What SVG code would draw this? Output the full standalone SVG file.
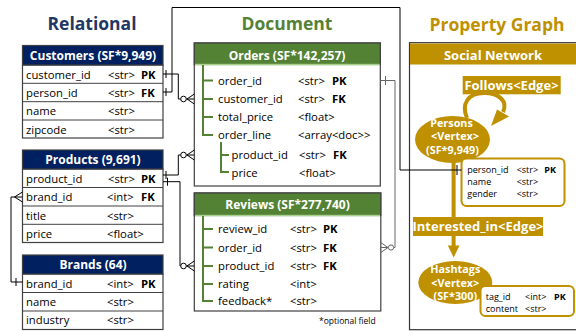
<svg xmlns="http://www.w3.org/2000/svg" width="576" height="331" viewBox="0 0 576 331">
<style>
text{font-family:"Open Sans","Noto Sans","DejaVu Sans",sans-serif}
.t{font-size:17.5px;font-weight:bold;text-anchor:middle}
.hd{font-size:12px;font-weight:bold;fill:#fff;text-anchor:middle}
.f{font-size:11.3px;fill:#000}
.k{font-size:11.3px;font-weight:bold;fill:#000}
.box{fill:#fff;stroke:#404040;stroke-width:1.2}
.sep{stroke:#404040;stroke-width:1}
.nv{fill:#002060;stroke:#404040;stroke-width:1.2}
.gr{fill:#548235}
.tree{stroke:#548235;stroke-width:2;fill:none}
.c{fill:none;stroke:#000;stroke-width:1}
.cg{fill:none;stroke:#666;stroke-width:1}
.o{fill:#fff;stroke:#000;stroke-width:1}
.gold{fill:#BF9000}
.gl{stroke:#BF9000;stroke-width:4;fill:none}
.vt{font-size:10.8px;font-weight:bold;fill:#fff;text-anchor:middle}
.et{font-size:13px;font-weight:bold;fill:#fff;text-anchor:middle}
.a{font-size:9px;fill:#000}
.ab{font-size:9px;font-weight:bold;fill:#000}
.ab2{fill:#fff;stroke:#BF9000;stroke-width:2}
</style>

<text class="t" x="92" y="30" fill="#1F3864">Relational</text>
<text class="t" x="287" y="30" fill="#548235">Document</text>
<text class="t" x="497" y="31" fill="#BF9000">Property Graph</text>

<g id="customers">
<rect class="box" x="22.5" y="65" width="140.5" height="73"/>
<rect class="nv" x="22.5" y="45.5" width="140.5" height="19.5"/>
<line class="sep" x1="22.5" y1="83.3" x2="163" y2="83.3"/>
<line class="sep" x1="22.5" y1="101.7" x2="163" y2="101.7"/>
<line class="sep" x1="22.5" y1="120" x2="163" y2="120"/>
<text class="hd" x="93" y="59.5">Customers (SF*9,949)</text>
<text class="f" x="26" y="78.5">customer_id</text><text class="f" x="108" y="78.5">&lt;str&gt;</text><text class="k" x="141" y="78.5">PK</text>
<text class="f" x="26" y="97">person_id</text><text class="f" x="108" y="97">&lt;str&gt;</text><text class="k" x="141" y="97">FK</text>
<text class="f" x="26" y="115.3">name</text><text class="f" x="108" y="115.3">&lt;str&gt;</text>
<text class="f" x="26" y="133.6">zipcode</text><text class="f" x="108" y="133.6">&lt;str&gt;</text>
</g>

<g id="products">
<rect class="box" x="22.5" y="169" width="140.5" height="73.5"/>
<rect class="nv" x="22.5" y="150" width="140.5" height="19"/>
<line class="sep" x1="22.5" y1="187.5" x2="163" y2="187.5"/>
<line class="sep" x1="22.5" y1="206" x2="163" y2="206"/>
<line class="sep" x1="22.5" y1="224.3" x2="163" y2="224.3"/>
<text class="hd" x="93" y="164">Products (9,691)</text>
<text class="f" x="26" y="182.5">product_id</text><text class="f" x="108" y="182.5">&lt;str&gt;</text><text class="k" x="141" y="182.5">PK</text>
<text class="f" x="26" y="201">brand_id</text><text class="f" x="107" y="201">&lt;int&gt;</text><text class="k" x="141" y="201">FK</text>
<text class="f" x="26" y="219.5">title</text><text class="f" x="107" y="219.5">&lt;str&gt;</text>
<text class="f" x="26" y="237.8">price</text><text class="f" x="107" y="237.8">&lt;float&gt;</text>
</g>

<g id="brands">
<rect class="box" x="22.5" y="274" width="140.5" height="55.5"/>
<rect class="nv" x="22.5" y="255" width="140.5" height="19"/>
<line class="sep" x1="22.5" y1="292.5" x2="163" y2="292.5"/>
<line class="sep" x1="22.5" y1="311" x2="163" y2="311"/>
<text class="hd" x="93" y="269">Brands (64)</text>
<text class="f" x="26" y="287.5">brand_id</text><text class="f" x="107" y="287.5">&lt;int&gt;</text><text class="k" x="141" y="287.5">PK</text>
<text class="f" x="26" y="306">name</text><text class="f" x="107" y="306">&lt;str&gt;</text>
<text class="f" x="26" y="324">industry</text><text class="f" x="107" y="324">&lt;str&gt;</text>
</g>

<g id="orders">
<rect class="box" x="194.3" y="43" width="186" height="143"/>
<rect class="gr" x="194.3" y="43" width="186" height="21.5" stroke="#404040" stroke-width="1.2"/>
<line x1="195" y1="64.5" x2="379.7" y2="64.5" stroke="#A9D18E" stroke-width="1.5"/>
<text class="hd" x="287" y="59.5">Orders (SF*142,257)</text>
<path class="tree" d="M203 65 V135 H213 M203 80.5 H213 M203 99 H213 M203 117 H213 M221 142 V172 H229 M221 155 H229"/>
<text class="f" x="218" y="84.5">order_id</text><text class="f" x="298" y="84.5">&lt;str&gt;</text><text class="k" x="332" y="84.5">PK</text>
<text class="f" x="218" y="103">customer_id</text><text class="f" x="298" y="103">&lt;str&gt;</text><text class="k" x="332" y="103">FK</text>
<text class="f" x="218" y="121">total_price</text><text class="f" x="298" y="121">&lt;float&gt;</text>
<text class="f" x="218" y="139">order_line</text><text class="f" x="298" y="139">&lt;array&lt;doc&gt;&gt;</text>
<text class="f" x="231.5" y="159">product_id</text><text class="f" x="299" y="159">&lt;str&gt;</text><text class="k" x="333" y="159">FK</text>
<text class="f" x="231.5" y="176.5">price</text><text class="f" x="299" y="176.5">&lt;float&gt;</text>
</g>

<g id="reviews">
<rect class="box" x="194.3" y="193" width="186.5" height="118"/>
<rect class="gr" x="194.3" y="193" width="186.5" height="22.5" stroke="#404040" stroke-width="1.2"/>
<line x1="195" y1="215.5" x2="380" y2="215.5" stroke="#A9D18E" stroke-width="1.5"/>
<text class="hd" x="287.5" y="208.5">Reviews (SF*277,740)</text>
<path class="tree" d="M203 216 V301 H213 M203 229 H213 M203 247.5 H213 M203 266 H213 M203 284 H213"/>
<text class="f" x="218" y="233">review_id</text><text class="f" x="290" y="233">&lt;str&gt;</text><text class="k" x="323" y="233">PK</text>
<text class="f" x="218" y="251.5">order_id</text><text class="f" x="290" y="251.5">&lt;str&gt;</text><text class="k" x="323" y="251.5">FK</text>
<text class="f" x="218" y="270">product_id</text><text class="f" x="290" y="270">&lt;str&gt;</text><text class="k" x="323" y="270">FK</text>
<text class="f" x="218" y="288">rating</text><text class="f" x="290" y="288">&lt;int&gt;</text>
<text class="f" x="218" y="305">feedback*</text><text class="f" x="290" y="305">&lt;str&gt;</text>
<text x="319" y="324" style="font-size:8.5px" fill="#000">*optional field</text>
</g>

<g id="social-network">
<rect x="409.5" y="42.7" width="180" height="287" fill="#fff" stroke="#333" stroke-width="1.2"/>
<rect class="gold" x="410" y="43.5" width="170" height="21"/>
<text class="hd" x="493" y="60" style="font-size:13px">Social Network</text>
</g>

<g id="follows-edge">
<path class="gl" d="M467 118 C461 104 468 93 484 93 C500 93 508 102 503 112"/>
<polygon class="gold" points="491,126 497,109.5 509,116.5"/>
<rect class="gold" x="462.7" y="76" width="98" height="18.3"/>
<text class="et" x="511.5" y="89.5">Follows&lt;Edge&gt;</text>
</g>

<g id="persons">
<ellipse class="gold" cx="452.5" cy="139.5" rx="37.5" ry="23.5"/>
<text class="vt" x="451.5" y="126.5">Persons</text>
<text class="vt" x="455" y="140.3">&lt;Vertex&gt;</text>
<text class="vt" x="452.5" y="154">(SF*9,949)</text>
</g>

<g id="interested-edge">
<line class="gl" x1="453.6" y1="162" x2="453.6" y2="247"/>
<polygon class="gold" points="447.8,245.5 459.5,245.5 453.7,257.5"/>
<rect class="gold" x="413" y="217" width="130" height="19"/>
<text class="et" x="478" y="231.3">Interested_in&lt;Edge&gt;</text>
</g>

<g id="persons-attrs">
<rect class="ab2" x="461.5" y="158.5" width="103" height="47.5" rx="5"/>
<text class="a" x="467.3" y="173.3">person_id</text><text class="a" x="516.7" y="173.3">&lt;str&gt;</text><text class="ab" x="544.3" y="173.3">PK</text>
<text class="a" x="467.3" y="185.3">name</text><text class="a" x="516.7" y="185.3">&lt;str&gt;</text>
<text class="a" x="467.3" y="197">gender</text><text class="a" x="516.7" y="197">&lt;str&gt;</text>
</g>

<g id="hashtags">
<ellipse class="gold" cx="455.3" cy="282.5" rx="37" ry="21.5"/>
<text class="vt" x="455.3" y="272.7">Hashtags</text>
<text class="vt" x="455.3" y="286.5">&lt;Vertex&gt;</text>
<text class="vt" x="455.3" y="300">(SF*300)</text>
</g>

<g id="hashtags-attrs">
<rect class="ab2" x="480.5" y="286" width="93.5" height="30" rx="5"/>
<text class="a" x="485.7" y="300">tag_id</text><text class="a" x="525" y="300">&lt;int&gt;</text><text class="ab" x="554" y="300">PK</text>
<text class="a" x="485.7" y="311.5">content</text><text class="a" x="525" y="311.5">&lt;str&gt;</text>
</g>

<g id="connectors">
<path class="c" d="M163 74 H178.3 V99 H180.7 M186.3 99 H194.3 M187 99 L194.3 94 M187 99 L194.3 104 M166 70 V78"/>
<circle class="o" cx="183.5" cy="99" r="2.8"/>
<path class="c" d="M163 92 H172 V7.5 H400 V170 H461.5 M166 88 V96 M457 165 V175"/>
<path class="c" d="M163 175 H178.3 V155 H180.7 M186.3 155 H194.3 M187 155 L194.3 150 M187 155 L194.3 160 M166 171 V179"/>
<circle class="o" cx="183.5" cy="155" r="2.8"/>
<path class="c" d="M163 181.7 H180 V266 H180.7 M186.3 266 H194.3 M187 266 L194.3 261 M187 266 L194.3 271 M167.5 177.7 V185.7"/>
<circle class="o" cx="183.5" cy="266" r="2.8"/>
<path class="c" d="M22.5 197 H11 V282 H22.5 M14.5 197 L22.5 192 M14.5 197 L22.5 202 M16 278 V286"/>
<path class="cg" d="M380.3 80.5 H395 V247.5 H393.6 M388.4 247.5 H380.8 M388 247.5 L380.8 242.5 M388 247.5 L380.8 252.5 M385.5 76 V85"/>
<circle cx="391" cy="247.5" r="2.6" fill="#fff" stroke="#666" stroke-width="1"/>
</g>
</svg>
